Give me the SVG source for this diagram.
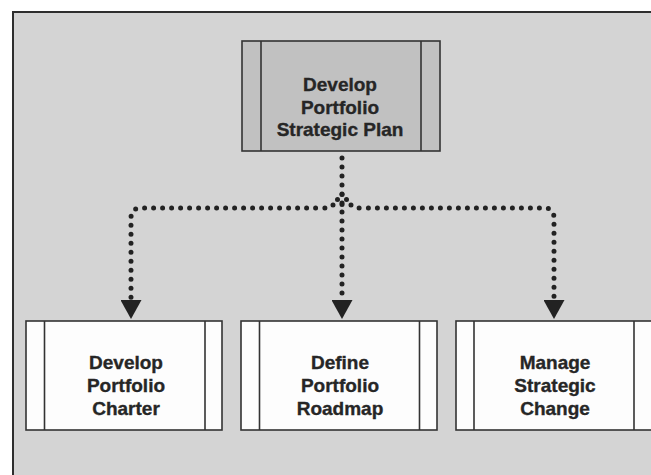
<svg xmlns="http://www.w3.org/2000/svg" width="651" height="475" viewBox="0 0 651 475">
  <style>
    .frame { fill: #d4d4d4; stroke: #2e2e2e; stroke-width: 2; }
    .box { stroke: #333; stroke-width: 1.6; }
    .box-top { fill: #c1c1c1; }
    .box-low { fill: #fdfdfd; }
    .rule { stroke: #333; stroke-width: 1.6; }
    .label { font-family: "Liberation Sans", Arial, sans-serif; font-weight: bold; font-size: 19px; fill: #262626; stroke: #262626; stroke-width: 0.35; text-anchor: middle; }
    .dots { fill: none; stroke: #222; stroke-width: 5; stroke-linecap: round; stroke-dasharray: 0 9; }
    .dot { fill: #222; }
  </style>
  <defs>
    <marker id="arrow" markerUnits="userSpaceOnUse" markerWidth="20" markerHeight="21" viewBox="0 -10.5 19 21" refX="0" refY="0" orient="auto">
      <path d="M0 -10.5 L19 0 L0 10.5 Z" fill="#222"/>
    </marker>
  </defs>

  <!-- panel background -->
  <rect class="frame" x="13" y="12" width="660" height="480"/>

  <!-- connectors -->
  <g id="connectors">
    <path class="dots" d="M342 158 V 300" marker-end="url(#arrow)"/>
    <path class="dots" d="M333 205 Q 330 208 322 208 H 141 Q 131 208 131 218 V 300" marker-end="url(#arrow)"/>
    <path class="dots" d="M351 205 Q 354 208 362 208 H 544 Q 554 208 554 218 V 300" marker-end="url(#arrow)"/>
    <!-- junction ring -->
    <circle class="dot" cx="342" cy="194.5" r="2.5"/>
    <circle class="dot" cx="337.5" cy="199.5" r="2.5"/>
    <circle class="dot" cx="346.5" cy="199.5" r="2.5"/>
    <circle class="dot" cx="342" cy="204.5" r="2.5"/>
  </g>

  <g id="node-strategic-plan">
    <rect class="box box-top" x="242" y="41" width="198" height="110"/>
    <line class="rule" x1="261" y1="41" x2="261" y2="151"/>
    <line class="rule" x1="421" y1="41" x2="421" y2="151"/>
    <text class="label" x="340" y="91">Develop</text>
    <text class="label" x="340" y="113.5">Portfolio</text>
    <text class="label" x="340" y="136">Strategic Plan</text>
  </g>

  <g id="node-charter">
    <rect class="box box-low" x="26" y="321" width="196" height="109"/>
    <line class="rule" x1="44.5" y1="321" x2="44.5" y2="430"/>
    <line class="rule" x1="205" y1="321" x2="205" y2="430"/>
    <text class="label" x="126" y="369">Develop</text>
    <text class="label" x="126" y="392">Portfolio</text>
    <text class="label" x="126" y="415">Charter</text>
  </g>

  <g id="node-roadmap">
    <rect class="box box-low" x="241" y="321" width="196" height="109"/>
    <line class="rule" x1="259.5" y1="321" x2="259.5" y2="430"/>
    <line class="rule" x1="419.5" y1="321" x2="419.5" y2="430"/>
    <text class="label" x="340" y="369">Define</text>
    <text class="label" x="340" y="392">Portfolio</text>
    <text class="label" x="340" y="415">Roadmap</text>
  </g>

  <g id="node-strategic-change">
    <rect class="box box-low" x="456" y="321" width="197" height="109"/>
    <line class="rule" x1="474" y1="321" x2="474" y2="430"/>
    <line class="rule" x1="634" y1="321" x2="634" y2="430"/>
    <text class="label" x="555" y="369">Manage</text>
    <text class="label" x="555" y="392">Strategic</text>
    <text class="label" x="555" y="415">Change</text>
  </g>
</svg>
